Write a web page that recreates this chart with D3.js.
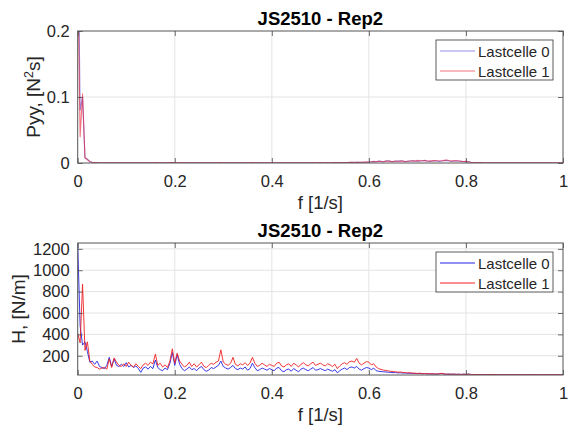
<!DOCTYPE html>
<html><head><meta charset="utf-8">
<script src="https://cdn.jsdelivr.net/npm/d3@7"></script>
<style>
html,body{margin:0;padding:0;background:#fff;}
svg{display:block;font-family:"Liberation Sans",Arial,sans-serif;}
</style></head>
<body><svg id="chart" width="579" height="435"></svg>
<script>
// ---------- data ----------
const freqStep = 0.005; // frequency resolution [1/s]
const xTicks = [0, 0.2, 0.4, 0.6, 0.8, 1];
const xTickLabels = ["0", "0.2", "0.4", "0.6", "0.8", "1"];
const seriesNames = ["Lastcelle 0", "Lastcelle 1"];
const titleText = "JS2510 - Rep2";

// Top panel: Pyy [N^2 s]
const pyyTicks = [0, 0.1, 0.2];
const pyyTickLabels = ["0", "0.1", "0.2"];
const pyy0 = [
 0.40,0.08,0.10,0.008,0.006,0.002,0.001,0.0006,0.0005,0.0004,
 0.0003,0.0004,0.0003,0.0002,0.0003,0.0004,0.0003,0.0003,0.0002,0.0003,
 0.0004,0.0003,0.0002,0.0003,0.0003,0.0004,0.0003,0.0002,0.0003,0.0003,
 0.0002,0.0003,0.0004,0.0003,0.0002,0.0003,0.0003,0.0002,0.0004,0.0005,
 0.0003,0.0004,0.0003,0.0002,0.0003,0.0003,0.0002,0.0003,0.0002,0.0003,
 0.0003,0.0002,0.0003,0.0002,0.0002,0.0003,0.0003,0.0002,0.0003,0.0004,
 0.0003,0.0002,0.0003,0.0003,0.0002,0.0003,0.0002,0.0003,0.0003,0.0002,
 0.0003,0.0003,0.0004,0.0003,0.0002,0.0003,0.0003,0.0002,0.0003,0.0003,
 0.0002,0.0003,0.0003,0.0002,0.0003,0.0002,0.0003,0.0003,0.0002,0.0003,
 0.0003,0.0002,0.0003,0.0003,0.0002,0.0003,0.0003,0.0004,0.0003,0.0003,
 0.0004,0.0003,0.0003,0.0004,0.0003,0.0004,0.0005,0.0004,0.0005,0.0006,
 0.0007,0.0006,0.0008,0.0009,0.0008,0.0010,0.0009,0.0011,0.0012,0.0013,
 0.0015,0.0020,0.0025,0.0020,0.0030,0.0025,0.0020,0.0030,0.0035,0.0025,
 0.0020,0.0030,0.0025,0.0035,0.0030,0.0020,0.0025,0.0030,0.0035,0.0030,
 0.0025,0.0030,0.0035,0.0040,0.0030,0.0025,0.0030,0.0035,0.0030,0.0025,
 0.0030,0.0035,0.0040,0.0030,0.0025,0.0030,0.0035,0.0030,0.0025,0.0020,
 0.0025,0.0020,0.0010,0.0006,0.0005,0.0004,0.0005,0.0004,0.0003,0.0004,
 0.0003,0.0004,0.0003,0.0003,0.0004,0.0003,0.0003,0.0004,0.0003,0.0003,
 0.0004,0.0003,0.0003,0.0004,0.0003,0.0003,0.0004,0.0003,0.0003,0.0003,
 0.0004,0.0003,0.0003,0.0004,0.0003,0.0003,0.0004,0.0003,0.0003,0.0003,0.0003
];
const pyy1 = [
 0.30,0.04,0.105,0.008,0.005,0.002,0.001,0.0007,0.0005,0.0004,
 0.0004,0.0003,0.0004,0.0003,0.0003,0.0004,0.0003,0.0004,0.0003,0.0003,
 0.0003,0.0004,0.0003,0.0003,0.0004,0.0003,0.0004,0.0003,0.0003,0.0004,
 0.0003,0.0004,0.0005,0.0003,0.0003,0.0004,0.0003,0.0003,0.0005,0.0006,
 0.0004,0.0005,0.0004,0.0003,0.0004,0.0004,0.0003,0.0004,0.0003,0.0004,
 0.0004,0.0003,0.0004,0.0003,0.0003,0.0004,0.0004,0.0003,0.0004,0.0006,
 0.0004,0.0003,0.0004,0.0004,0.0003,0.0004,0.0003,0.0004,0.0004,0.0003,
 0.0004,0.0004,0.0005,0.0004,0.0003,0.0004,0.0004,0.0003,0.0004,0.0004,
 0.0003,0.0004,0.0004,0.0003,0.0004,0.0003,0.0004,0.0004,0.0003,0.0004,
 0.0004,0.0003,0.0004,0.0004,0.0003,0.0004,0.0004,0.0005,0.0004,0.0004,
 0.0005,0.0004,0.0004,0.0005,0.0004,0.0005,0.0006,0.0005,0.0006,0.0007,
 0.0008,0.0007,0.0009,0.0010,0.0009,0.0011,0.0010,0.0012,0.0013,0.0014,
 0.0016,0.0018,0.0022,0.0020,0.0026,0.0022,0.0020,0.0028,0.0030,0.0024,
 0.0022,0.0028,0.0026,0.0030,0.0028,0.0022,0.0026,0.0030,0.0032,0.0028,
 0.0040,0.0032,0.0034,0.0036,0.0030,0.0028,0.0032,0.0036,0.0034,0.0030,
 0.0034,0.0040,0.0045,0.0038,0.0030,0.0032,0.0034,0.0030,0.0026,0.0022,
 0.0024,0.0018,0.0010,0.0007,0.0006,0.0005,0.0005,0.0004,0.0004,0.0004,
 0.0003,0.0004,0.0004,0.0003,0.0004,0.0004,0.0003,0.0004,0.0004,0.0003,
 0.0004,0.0004,0.0003,0.0004,0.0004,0.0003,0.0004,0.0004,0.0003,0.0004,
 0.0004,0.0003,0.0004,0.0004,0.0003,0.0004,0.0004,0.0003,0.0004,0.0004,0.0003
];

// Bottom panel: H [N/m]
const hTicks = [200, 400, 600, 800, 1000, 1200];
const hTickLabels = ["200", "400", "600", "800", "1000", "1200"];
const h0 = [
 1250,480,300,330,240,140,150,120,150,100,
 90,80,110,185,100,170,110,100,120,100,
 135,95,110,90,105,80,45,85,95,75,
 100,80,160,90,70,60,85,70,130,230,
 110,210,120,80,60,75,95,70,80,60,
 85,100,70,55,65,90,80,95,110,150,
 100,85,75,90,110,80,70,85,75,95,
 65,80,130,90,60,70,85,75,65,80,
 70,60,85,90,60,50,70,75,55,80,
 65,50,75,85,70,60,75,90,65,70,
 80,70,60,75,65,55,70,40,60,75,
 85,70,90,95,85,100,75,65,80,90,
 85,70,85,60,55,52,50,48,46,44,
 42,43,40,41,38,39,36,37,34,35,
 33,34,31,33,30,31,29,30,28,31,
 34,29,27,28,27,28,26,27,25,28,
 26,28,25,24,24,23,24,23,23,24,
 23,23,24,23,22,23,23,22,23,23,
 22,23,22,22,23,22,22,23,22,22,
 22,22,23,22,22,22,22,23,22,22,22
];
const h1 = [
 410,320,870,250,330,150,120,95,90,75,
 85,90,75,170,90,180,140,110,100,125,
 100,140,110,95,125,100,80,115,130,110,
 140,125,215,110,130,95,115,90,150,265,
 130,225,150,120,95,110,140,100,125,95,
 115,140,100,90,110,130,120,140,150,255,
 140,120,110,130,185,120,105,125,115,135,
 110,130,185,130,100,110,130,115,100,120,
 110,100,130,140,105,95,115,125,100,130,
 115,95,120,135,115,105,125,140,110,120,
 130,115,105,125,115,100,120,80,105,125,
 135,120,145,150,140,175,130,115,130,145,
 140,115,125,95,80,72,66,62,58,55,
 52,50,46,48,44,42,40,41,38,36,
 35,37,33,34,32,31,32,30,29,32,
 36,30,28,29,27,28,26,27,25,27,
 26,28,25,24,24,23,24,23,23,24,
 23,24,23,23,22,23,24,22,23,23,
 23,22,23,22,23,22,23,22,22,23,
 22,23,22,22,23,22,22,22,23,22,22
];

// ---------- drawing ----------
const svg = d3.select("#chart");
const txt = "#262626";
const plotL = 77.7, plotR = 563;
const x = d3.scaleLinear().domain([0, 1]).range([plotL, plotR]);

function panel(cfg) {
  const y = d3.scaleLinear().domain(cfg.ydom).range([cfg.bottom, cfg.top]);
  const g = svg.append("g");
  const clipId = "clip" + cfg.id;
  svg.append("clipPath").attr("id", clipId).append("rect")
    .attr("x", plotL).attr("y", cfg.top).attr("width", plotR - plotL).attr("height", cfg.bottom - cfg.top);

  // grid
  g.append("g").selectAll("line").data(xTicks.slice(1, -1)).join("line")
    .attr("x1", d => x(d)).attr("x2", d => x(d)).attr("y1", cfg.top).attr("y2", cfg.bottom)
    .attr("stroke", "#e3e3e3").attr("stroke-width", 1);
  g.append("g").selectAll("line").data(cfg.yticks.filter(d => y(d) > cfg.top + 1 && y(d) < cfg.bottom - 1)).join("line")
    .attr("x1", plotL).attr("x2", plotR).attr("y1", d => y(d)).attr("y2", d => y(d))
    .attr("stroke", "#e3e3e3").attr("stroke-width", 1);

  // lines
  const line = d3.line().x((d, i) => x(i * freqStep)).y(d => y(d));
  const lg = g.append("g").attr("clip-path", `url(#${clipId})`);
  cfg.series.forEach((s, k) => {
    lg.append("path").datum(s).attr("d", line).attr("fill", "none")
      .attr("stroke", cfg.colors[k]).attr("stroke-width", cfg.lw).attr("stroke-linejoin", "round");
  });

  // axes
  const ax = g.append("g").attr("transform", `translate(0,${cfg.bottom})`)
    .call(d3.axisBottom(x).tickValues(xTicks).tickFormat((d, i) => xTickLabels[i]).tickSize(-5).tickPadding(12));
  const axT = g.append("g").attr("transform", `translate(0,${cfg.top})`)
    .call(d3.axisTop(x).tickValues(xTicks).tickFormat("").tickSize(-5));
  const ay = g.append("g").attr("transform", `translate(${plotL},0)`)
    .call(d3.axisLeft(y).tickValues(cfg.yticks).tickFormat((d, i) => cfg.ylabels[i]).tickSize(-5).tickPadding(8));
  const ayR = g.append("g").attr("transform", `translate(${plotR},0)`)
    .call(d3.axisRight(y).tickValues(cfg.yticks).tickFormat("").tickSize(-5));
  [ax, axT, ay, ayR].forEach(a => {
    a.select(".domain").remove();
    a.selectAll(".tick line").attr("stroke", "#4a4a4a").attr("stroke-width", 0.8);
    a.selectAll("text").attr("fill", txt).attr("font-size", 16.5).attr("font-family", "Liberation Sans, Arial, sans-serif");
  });
  // frame
  g.append("rect").attr("x", plotL).attr("y", cfg.top).attr("width", plotR - plotL).attr("height", cfg.bottom - cfg.top)
    .attr("fill", "none").attr("stroke", "#555").attr("stroke-width", 1);

  // title
  g.append("text").attr("x", (plotL + plotR) / 2).attr("y", cfg.top - 6).attr("text-anchor", "middle")
    .attr("font-size", 18.5).attr("font-weight", "bold").attr("fill", "#000").text(titleText);
  // x label
  g.append("text").attr("x", (plotL + plotR) / 2).attr("y", cfg.bottom + 46).attr("text-anchor", "middle")
    .attr("font-size", 18.5).attr("fill", txt).text("f [1/s]");
  // y label
  const yl = g.append("text").attr("transform", `translate(${cfg.ylabelX},${(cfg.top + cfg.bottom) / 2}) rotate(-90)`)
    .attr("text-anchor", "middle").attr("font-size", 19).attr("fill", txt);
  cfg.ylabel(yl);

  // legend
  const lgX = 436, lgW = 117, lgY = cfg.top + 9, lgH = 40;
  const leg = g.append("g");
  leg.append("rect").attr("x", lgX).attr("y", lgY).attr("width", lgW).attr("height", lgH)
    .attr("fill", "#fff").attr("stroke", "#333").attr("stroke-width", 0.8);
  seriesNames.forEach((n, k) => {
    const yy = lgY + 11 + k * 20;
    leg.append("line").attr("x1", lgX + 4).attr("x2", lgX + 39).attr("y1", yy).attr("y2", yy)
      .attr("stroke", cfg.colors[k]).attr("stroke-width", 1);
    leg.append("text").attr("x", lgX + 42).attr("y", yy + 5.5).attr("font-size", 15).attr("fill", txt).text(n);
  });
}

panel({
  id: "top", top: 31, bottom: 163, ydom: [0, 0.2],
  yticks: pyyTicks, ylabels: pyyTickLabels,
  series: [pyy0, pyy1],
  colors: ["rgba(40,30,210,0.5)", "rgba(235,20,40,0.6)"], lw: 1.1,
  ylabelX: 40,
  ylabel: t => { t.append("tspan").text("Pyy, [N"); t.append("tspan").attr("font-size", 12.5).attr("dy", -7).text("2"); t.append("tspan").attr("dy", 7).text("s]"); }
});
panel({
  id: "bot", top: 243, bottom: 375, ydom: [20, 1255],
  yticks: hTicks, ylabels: hTickLabels,
  series: [h0, h1],
  colors: ["#2323e6", "#f02020"], lw: 0.9,
  ylabelX: 25,
  ylabel: t => t.text("H, [N/m]")
});
</script>
</body></html>
